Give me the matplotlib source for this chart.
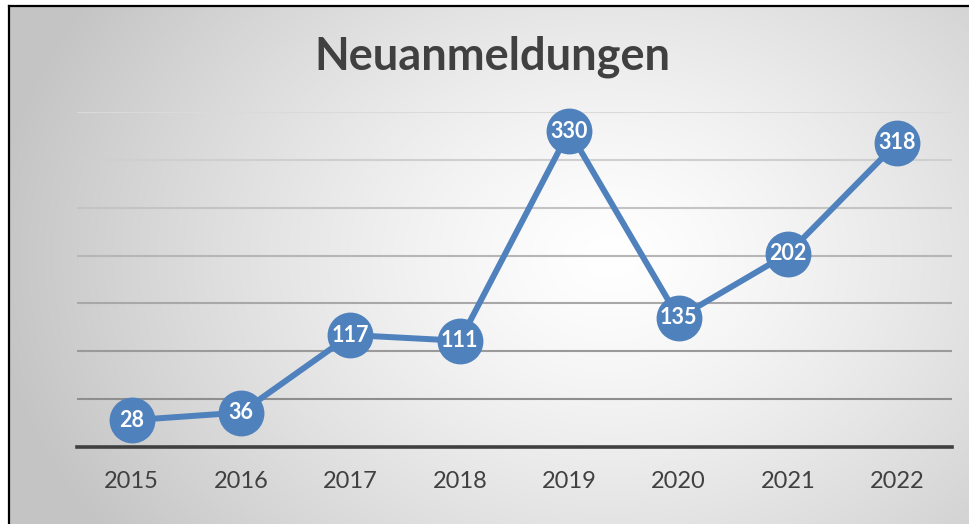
import numpy as np
import matplotlib
matplotlib.use("Agg")
import matplotlib.pyplot as plt
from matplotlib.lines import Line2D

years = ["2015", "2016", "2017", "2018", "2019", "2020", "2021", "2022"]
values = [28, 36, 117, 111, 330, 135, 202, 318]
grid_levels = [50, 100, 150, 200, 250, 300, 350]
title = "Neuanmeldungen"

W, H = 969, 524
fig = plt.figure(figsize=(W / 100, H / 100), dpi=100)
fig.patch.set_facecolor("white")

# background radial gradient
bx0, by0 = 10, 7
bg_ax = fig.add_axes([bx0 / W, 0, 1 - bx0 / W, 1 - by0 / H])
bg_ax.set_axis_off()
gw, gh = W - bx0, H - by0
xx, yy = np.meshgrid(np.arange(gw), np.arange(gh))
cx, cy = 600, 250
r = np.sqrt(((xx - cx) / 620.0) ** 2 + ((yy - cy) / 480.0) ** 2)
r = np.clip(r, 0, 1)
val = 1.0 - 0.23 * r ** 1.3
img = np.dstack([val, val, val])
bg_ax.imshow(img, aspect="auto", extent=[0, 1, 0, 1], origin="upper")
bg_ax.set_xlim(0, 1)
bg_ax.set_ylim(0, 1)

# borders
fig.add_artist(Line2D([8.5 / W, 8.5 / W], [0, 1 - 5.5 / H], color="black", lw=1.6,
                      transform=fig.transFigure))
fig.add_artist(Line2D([8.5 / W, 1], [1 - 5.5 / H, 1 - 5.5 / H], color="black", lw=1.6,
                      transform=fig.transFigure))

left, right = 77 / W, 952 / W
bottom, top = 1 - 447 / H, 1 - 112 / H
ax = fig.add_axes([left, bottom, right - left, top - bottom])
ax.patch.set_alpha(0)
x = np.arange(len(years))
ax.set_xlim(-0.5, len(years) - 0.5)
ax.set_ylim(0, 350)

grid_colors = ["#8E8E8E", "#9A9A9A", "#A8A8A8", "#B6B6B6", "#C4C4C4", "#CFCFCF", "#DADADA"]
for lvl, c in zip(grid_levels, grid_colors):
    ax.axhline(lvl, color=c, lw=1.5, zorder=1)
ax.axhline(0, color="#404040", lw=2.6, zorder=2, clip_on=False)

for s in ax.spines.values():
    s.set_visible(False)
ax.set_yticks([])
ax.set_xticks(x)
ax.set_xticklabels(years, fontsize=17, color="#404040", family=["Lato", "DejaVu Sans"])
ax.tick_params(axis="x", length=0, pad=17)

ax.plot(x, values, color="#4F81BD", lw=4.3, marker="o", markersize=32,
        markerfacecolor="#4F81BD", markeredgecolor="#4F81BD", zorder=3, clip_on=False)
for xi, v in zip(x, values):
    ax.text(xi, v, str(v), ha="center", va="center", color="white", fontsize=15.5,
            fontweight="bold", family=["Lato", "DejaVu Sans"], zorder=4)

fig.text(492 / W, 1 - 57 / H, title, ha="center", va="center", fontsize=32.5,
         fontweight="bold", color="#404040", family=["Lato", "DejaVu Sans"])

fig.savefig("out.png", dpi=100)
